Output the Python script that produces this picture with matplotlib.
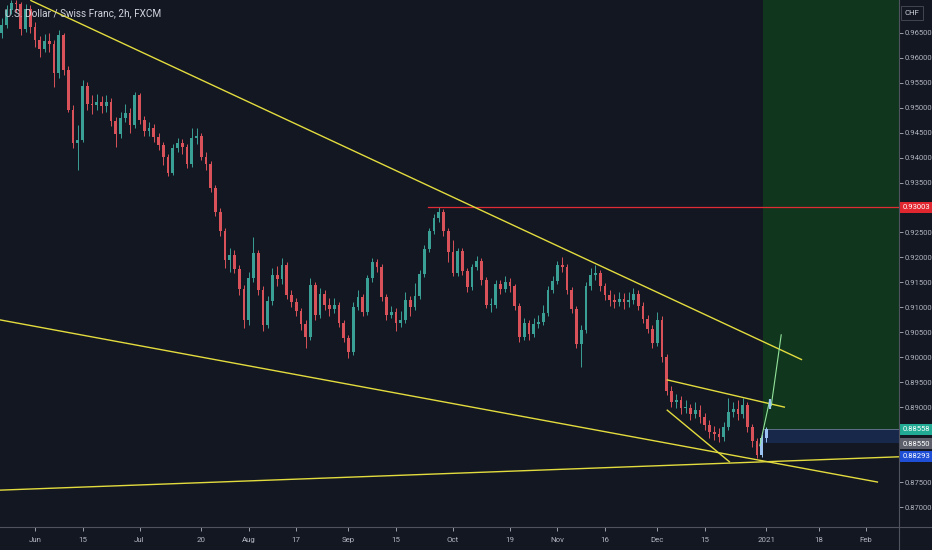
import matplotlib
matplotlib.use("Agg")
import matplotlib.pyplot as plt
from matplotlib.patches import Rectangle
from matplotlib.lines import Line2D
import numpy as np

plt.rcParams['font.family'] = ['Liberation Sans Narrow', 'Roboto', 'DejaVu Sans']

# ---------------- data ----------------
title = "U.S. Dollar / Swiss Franc, 2h, FXCM"

first_open = 0.9649
closes = [
    0.9665, 0.9695, 0.9709, 0.9707, 0.9657, 0.9697, 0.9661, 0.9635, 0.9617, 0.9633,
    0.9627, 0.9569, 0.9645, 0.9575, 0.9495, 0.9429, 0.9435, 0.9543, 0.9507, 0.9505,
    0.9511, 0.9503, 0.9511, 0.9473, 0.9447, 0.9479, 0.9489, 0.9465, 0.9525, 0.9475,
    0.9453, 0.9459, 0.9441, 0.9425, 0.9401, 0.9369, 0.9419, 0.9429, 0.9421, 0.9387,
    0.9439, 0.9443, 0.9401, 0.9387, 0.9339, 0.9291, 0.9253, 0.9195, 0.9205, 0.9177,
    0.9137, 0.9075, 0.9159, 0.9209, 0.9135, 0.9065, 0.9113, 0.9165, 0.9157, 0.9185,
    0.9125, 0.9111, 0.9093, 0.9067, 0.9041, 0.9145, 0.9085, 0.9127, 0.9105, 0.9097,
    0.9105, 0.9069, 0.9039, 0.9011, 0.9101, 0.9121, 0.9091, 0.9159, 0.9191, 0.9181,
    0.9121, 0.9085, 0.9091, 0.9069, 0.9075, 0.9115, 0.9101, 0.9123, 0.9167, 0.9217,
    0.9253, 0.9279, 0.9291, 0.9253, 0.9211, 0.9169, 0.9213, 0.9173, 0.9141, 0.9181,
    0.9193, 0.9155, 0.9105, 0.9105, 0.9147, 0.9137, 0.9151, 0.9143, 0.9103, 0.9041,
    0.9069, 0.9047, 0.9067, 0.9071, 0.9089, 0.9135, 0.9153, 0.9185, 0.9181, 0.9135,
    0.9097, 0.9027, 0.9055, 0.9143, 0.9165, 0.9169, 0.9143, 0.9125, 0.9115, 0.9111,
    0.9117, 0.9111, 0.9115, 0.9127, 0.9103, 0.9077, 0.9057, 0.9029, 0.9075, 0.9001,
    0.8933, 0.8911, 0.8915, 0.8899, 0.8899, 0.8887, 0.8895, 0.8881, 0.8865, 0.8851,
    0.8847, 0.8841, 0.8861, 0.8891, 0.8897, 0.8887, 0.8905, 0.8861, 0.8832, 0.8804,
    0.8838, 0.88558,
]
highs = [
    0.9680, 0.9705, 0.9715, 0.9715, 0.9711, 0.9707, 0.9705, 0.9671, 0.9643, 0.9647,
    0.9649, 0.9635, 0.9655, 0.9649, 0.9583, 0.9505, 0.9465, 0.9555, 0.9551, 0.9525,
    0.9527, 0.9523, 0.9525, 0.9519, 0.9481, 0.9491, 0.9507, 0.9499, 0.9531, 0.9529,
    0.9483, 0.9471, 0.9467, 0.9449, 0.9431, 0.9407, 0.9427, 0.9439, 0.9437, 0.9427,
    0.9459, 0.9459, 0.9449, 0.9411, 0.9393, 0.9345, 0.9299, 0.9259, 0.9219, 0.9215,
    0.9185, 0.9145, 0.9171, 0.9241, 0.9215, 0.9143, 0.9123, 0.9179, 0.9183, 0.9199,
    0.9191, 0.9135, 0.9119, 0.9099, 0.9075, 0.9159, 0.9151, 0.9139, 0.9135, 0.9119,
    0.9119, 0.9111, 0.9075, 0.9045, 0.9111, 0.9135, 0.9127, 0.9165, 0.9199, 0.9197,
    0.9187, 0.9127, 0.9103, 0.9099, 0.9093, 0.9131, 0.9123, 0.9149, 0.9175, 0.9225,
    0.9259, 0.9287, 0.9301, 0.9297, 0.9259, 0.9235, 0.9219, 0.9219, 0.9179, 0.9187,
    0.9203, 0.9199, 0.9161, 0.9119, 0.9155, 0.9155, 0.9163, 0.9159, 0.9147, 0.9109,
    0.9079, 0.9075, 0.9079, 0.9085, 0.9105, 0.9143, 0.9163, 0.9193, 0.9201, 0.9187,
    0.9141, 0.9103, 0.9065, 0.9151, 0.9179, 0.9185, 0.9175, 0.9149, 0.9135, 0.9127,
    0.9131, 0.9129, 0.9131, 0.9139, 0.9135, 0.9111, 0.9085, 0.9065, 0.9091, 0.9083,
    0.9007, 0.8943, 0.8927, 0.8923, 0.8915, 0.8907, 0.8911, 0.8905, 0.8889, 0.8875,
    0.8863, 0.8859, 0.8871, 0.8919, 0.8911, 0.8915, 0.8919, 0.8911, 0.8867, 0.8838,
    0.8847, 0.8861,
]
lows = [
    0.9639, 0.9659, 0.9687, 0.9691, 0.9645, 0.9651, 0.9649, 0.9621, 0.9601, 0.9611,
    0.9611, 0.9541, 0.9559, 0.9565, 0.9491, 0.9419, 0.9375, 0.9431, 0.9495, 0.9487,
    0.9495, 0.9489, 0.9491, 0.9463, 0.9421, 0.9439, 0.9471, 0.9449, 0.9459, 0.9467,
    0.9443, 0.9443, 0.9431, 0.9415, 0.9385, 0.9363, 0.9365, 0.9411, 0.9407, 0.9379,
    0.9381, 0.9427, 0.9395, 0.9375, 0.9331, 0.9283, 0.9243, 0.9179, 0.9171, 0.9169,
    0.9125, 0.9059, 0.9065, 0.9151, 0.9125, 0.9053, 0.9059, 0.9105, 0.9143, 0.9147,
    0.9117, 0.9101, 0.9083, 0.9055, 0.9019, 0.9035, 0.9075, 0.9079, 0.9095, 0.9083,
    0.9089, 0.9061, 0.9031, 0.8999, 0.9005, 0.9095, 0.9083, 0.9085, 0.9151, 0.9171,
    0.9113, 0.9075, 0.9079, 0.9053, 0.9061, 0.9069, 0.9083, 0.9095, 0.9117, 0.9161,
    0.9211, 0.9247, 0.9271, 0.9243, 0.9191, 0.9163, 0.9163, 0.9165, 0.9131, 0.9135,
    0.9175, 0.9145, 0.9099, 0.9091, 0.9099, 0.9127, 0.9131, 0.9131, 0.9095, 0.9031,
    0.9035, 0.9035, 0.9041, 0.9059, 0.9065, 0.9083, 0.9129, 0.9147, 0.9171, 0.9127,
    0.9089, 0.9019, 0.8981, 0.9049, 0.9135, 0.9155, 0.9133, 0.9115, 0.9103, 0.9099,
    0.9103, 0.9097, 0.9101, 0.9107, 0.9095, 0.9069, 0.9049, 0.9019, 0.9023, 0.8991,
    0.8925, 0.8901, 0.8899, 0.8887, 0.8889, 0.8875, 0.8879, 0.8869, 0.8855, 0.8838,
    0.8834, 0.8830, 0.8832, 0.8855, 0.8881, 0.8875, 0.8879, 0.8851, 0.8820, 0.8798,
    0.8800, 0.8830,
]
first_day = -7          # trading-day index (0 = 1 Jun 2020)
days = list(range(first_day, first_day + len(closes)))

tick_labels = ["Jun", "15", "Jul", "20", "Aug", "17", "Sep", "15", "Oct", "19",
               "Nov", "16", "Dec", "15", "2021", "18", "Feb"]
tick_days = [0, 10, 22, 35, 45, 55, 66, 76, 88, 100, 110, 120, 131, 141, 154, 165, 175]

# price-scale labels that are visible (the others are covered by the price tags)
price_ticks = [0.870, 0.875, 0.890, 0.895, 0.900, 0.905, 0.910, 0.915,
               0.920, 0.925, 0.935, 0.940, 0.945, 0.950, 0.955, 0.960, 0.965]

# drawn trend lines: (day, price) end points
trend_lines = [
    [(-1.0, 0.9715), (161.5, 0.8995)],
    [(-7.4, 0.9075), (177.5, 0.8750)],
    [(-7.4, 0.8734), (182.5, 0.8801)],
    [(133.0, 0.8955), (157.9, 0.8900)],
    [(133.0, 0.8895), (146.3, 0.8790)],
]
projection_path = [(152.6, 0.8823), (154.6, 0.8911), (155.0, 0.8903), (157.1, 0.9045)]
resistance_level = 0.93003
resistance_start = 82.7
position_start = 153.3
entry_level = 0.88558
last_level = 0.88550
stop_level = 0.88293

# ---------------- figure ----------------
BG = '#131722'
TXT = '#b2b5be'
FS = 5.5
fig = plt.figure(figsize=(9.32, 5.50), dpi=100, facecolor=BG)
ax = fig.add_axes([0, 23 / 550, 899 / 932, 527 / 550], facecolor=BG)
xmin, xmax = -7.37, 181.9
ymin, ymax = 0.86602, 0.97155
ax.set_xlim(xmin, xmax)
ax.set_ylim(ymin, ymax)

# position zones
ax.add_patch(Rectangle((position_start, entry_level), xmax - position_start, ymax - entry_level,
                       facecolor='#10371e', edgecolor='none', zorder=0.5))
ax.add_patch(Rectangle((position_start, stop_level), xmax - position_start, entry_level - stop_level,
                       facecolor='#18284a', edgecolor='none', zorder=0.5))
ax.plot([position_start, xmax], [entry_level, entry_level], color='#5f6f86', lw=0.7, zorder=0.6)

# candles
opens = [first_open] + closes[:-1]
up_c, dn_c, ghost_c = '#3a9f94', '#d9525a', '#9cc3f2'
n = len(closes)
for i, (d, o, h, l, c) in enumerate(zip(days, opens, highs, lows, closes)):
    if i >= n - 2:
        col = ghost_c
    else:
        col = up_c if c >= o else dn_c
    ax.vlines(d, l, h, color=col, lw=0.7, zorder=2)
    bottom = min(o, c)
    height = max(abs(c - o), 0.00008)
    ax.bar(d, height, bottom=bottom, width=0.58, color=col, edgecolor='none', zorder=2.1)

# resistance line
ax.plot([resistance_start, xmax], [resistance_level, resistance_level],
        color='#e02c35', lw=0.9, zorder=3)

# trend lines
for (p0, p1) in trend_lines:
    ax.plot([p0[0], p1[0]], [p0[1], p1[1]], color='#e3dc3e', lw=1.0, zorder=3,
            solid_capstyle='butt')

# projection path
px = [p[0] for p in projection_path]
py = [p[1] for p in projection_path]
ax.plot(px, py, color='#93e39a', lw=0.8, zorder=3.2)
ax.vlines(154.7, 0.8897, 0.8916, color=ghost_c, lw=1.6, zorder=3.3)

# axes styling
for s in ax.spines.values():
    s.set_visible(False)
ax.yaxis.tick_right()
ax.set_yticks(price_ticks)
ax.set_yticklabels([f"{p:.5f}" for p in price_ticks])
ax.tick_params(axis='y', direction='out', length=3, width=0.6, pad=1.2,
               labelsize=FS, colors=TXT)
ax.set_xticks(tick_days)
ax.set_xticklabels(tick_labels)
ax.tick_params(axis='x', direction='out', length=3, width=0.6, pad=4,
               labelsize=5.7, colors=TXT)

# separator lines
fig.add_artist(Line2D([899 / 932, 899 / 932], [0, 1], color='#50535e', lw=0.8))
fig.add_artist(Line2D([0, 1], [23 / 550, 23 / 550], color='#50535e', lw=0.8))

# price tags
def price_tag(price, text, color, dy=0.0):
    ax.annotate(text, xy=(1.0, price), xycoords=('axes fraction', 'data'),
                xytext=(2.8, dy), textcoords='offset points', ha='left', va='center',
                fontsize=FS, color='white', zorder=10, annotation_clip=False,
                bbox=dict(boxstyle='square,pad=0.35', fc=color, ec='none'))

price_tag(resistance_level, f"{resistance_level:.5f}", '#e0262f')
price_tag(entry_level, f"{entry_level:.5f}", '#22ab94')
price_tag(last_level, f"{last_level:.5f}", '#5d606b', dy=-10)
price_tag(stop_level, f"{stop_level:.5f}", '#1f4fd6', dy=-10)

# title
fig.text(5 / 932, 1 - 13 / 550, title, fontsize=7.2, color='#d1d4dc', va='center', ha='left')

# currency button
fig.text(912 / 932, 1 - 13 / 550, "CHF", fontsize=5.6, color='#d1d4dc', va='center', ha='center',
         bbox=dict(boxstyle='square,pad=0.5', fc=BG, ec='#434651', lw=0.7), zorder=20)

fig.savefig("out.png", dpi=100, facecolor=BG)
